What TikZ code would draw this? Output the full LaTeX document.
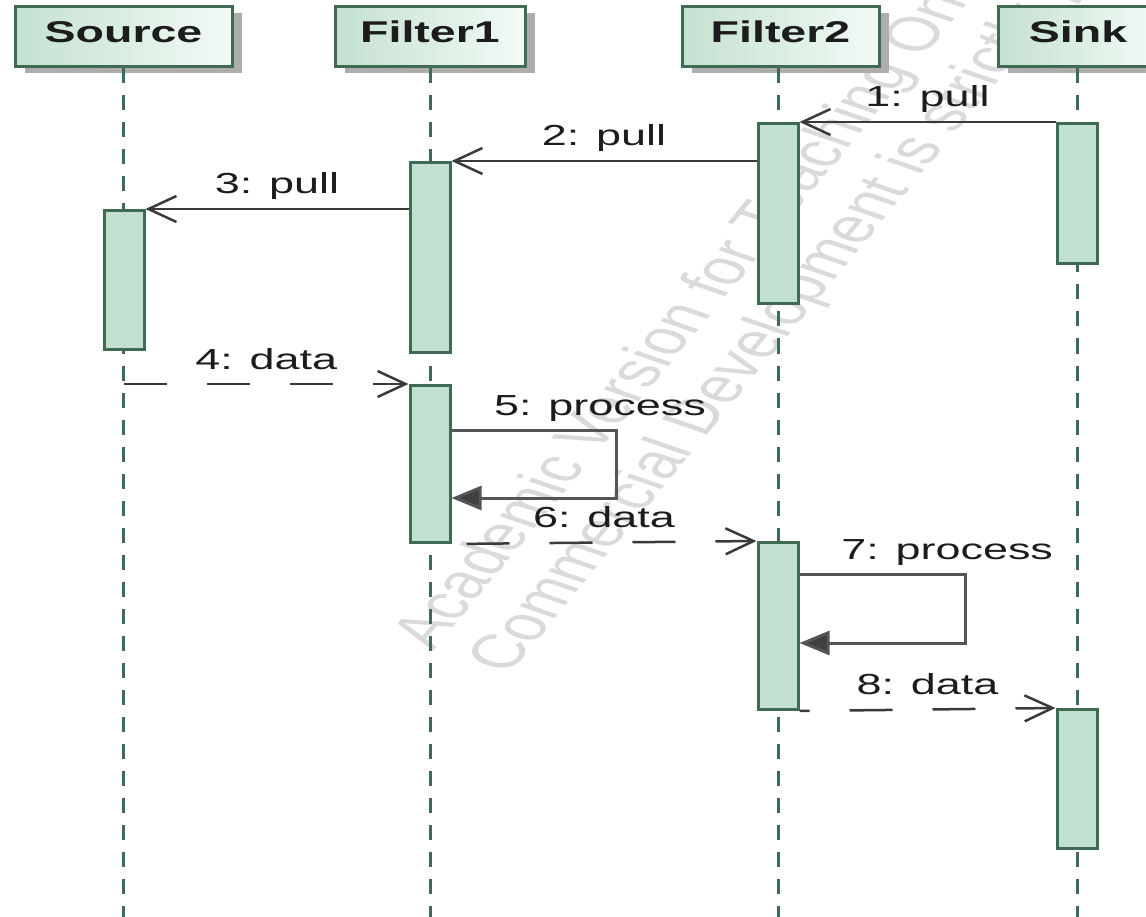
\documentclass[tikz,border=0pt]{standalone}
\usepackage{fontspec}
\usepackage{graphicx}
\setmainfont{Liberation Sans}
\usetikzlibrary{arrows.meta,shadows,calc}

\definecolor{lifegreen}{HTML}{3F6B54}
\definecolor{barfill}{HTML}{C2E0D0}
\definecolor{headleft}{HTML}{C4E1D1}
\definecolor{headright}{HTML}{F3FAF6}
\definecolor{msgline}{HTML}{3A3A3A}
\definecolor{selfline}{HTML}{555555}
\definecolor{inktext}{HTML}{1C1C1C}
\definecolor{wmark}{HTML}{DADADA}

% horizontally widened text, as the UML tool exports it
\newcommand{\wide}[1]{\scalebox{1.55}[1]{#1}}

\tikzset{
  header/.style={draw=lifegreen, line width=3pt, left color=headleft, right color=headright,
    minimum height=60pt, inner sep=0pt, text height=22pt, text depth=10pt,
    font=\fontsize{30}{34}\selectfont\bfseries, text=inktext,
    drop shadow={shadow xshift=10pt, shadow yshift=-6pt, fill=black!32, opacity=1}},
  lifeline/.style={draw=lifegreen, line width=3pt, dash pattern=on 15pt off 12pt},
  bar/.style={draw=lifegreen, fill=barfill, line width=3pt, minimum width=40pt, inner sep=0pt, anchor=north},
  call/.style={draw=msgline, line width=2.5pt, -{Straight Barb[length=28pt,width=26pt]}},
  reply/.style={draw=msgline, line width=2.5pt, dash pattern=on 43pt off 40pt, -{Straight Barb[length=28pt,width=26pt]}},
  selfcall/.style={draw=selfline, line width=3pt, -{Triangle[length=30pt,width=24pt,fill=black!75]}},
  msglabel/.style={anchor=base, inner sep=0pt, yshift=15pt, font=\fontsize{29}{33}\selectfont, text=inktext},
  watermark/.style={anchor=base west, inner sep=0pt, text=wmark, font=\fontsize{48}{54}\selectfont,
    xscale=1.55, rotate=62}
}

\begin{document}
\begin{tikzpicture}[x=1pt, y=-1pt]
\useasboundingbox (0,0) rectangle (1146,917);
\clip (0,0) rectangle (1146,917);

% watermark
\node[watermark] (wm1) at (433,652) {Academic Version for Teaching Only};
\node[watermark] (wm2) at (508,676) {Commercial Development is strictly prohibited};

% participants
\node[header, minimum width=217pt] (src) at (123.5,37) {\wide{Source}};
\node[header, minimum width=190pt] (fa)  at (430,37)   {\wide{Filter1}};
\node[header, minimum width=197pt] (fb)  at (780.5,37) {\wide{Filter2}};
\node[header, minimum width=160pt] (snk) at (1078,37)  {\wide{Sink}};

% lifeline ends below the page edge
\coordinate (srcEnd) at (124,925);
\coordinate (faEnd)  at (430,925);
\coordinate (fbEnd)  at (778,925);
\coordinate (snkEnd) at (1077,925);

\draw[lifeline] (src.south) -- (src.south |- srcEnd);
\draw[lifeline] (fa.south)  -- (fa.south |- faEnd);
\draw[lifeline] (fb.south -| fbEnd) -- (fbEnd);
\draw[lifeline] (snk.south -| snkEnd) -- (snkEnd);

% activation bars
\node[bar, minimum height=180pt] (fbA)  at (778,122)  {};
\node[bar, minimum height=140pt] (snkA) at (1077,122) {};
\node[bar, minimum height=190pt] (faA)  at (430,161)  {};
\node[bar, minimum height=139pt] (srcA) at (124,209)  {};
\node[bar, minimum height=157pt] (faB)  at (430,384)  {};
\node[bar, minimum height=167pt] (fbB)  at (778,541)  {};
\node[bar, minimum height=139pt] (snkB) at (1077,708) {};

% pull requests
\draw[call] (snkA.north west) -- (fbA.north east)
  node[msglabel, pos=0.5] (m1) {\wide{1: pull}};
\draw[call] (fbA.west |- faA.north) -- (faA.north east)
  node[msglabel, pos=0.5] (m2) {\wide{2: pull}};
\draw[call] (faA.west |- srcA.north) -- (srcA.north east)
  node[msglabel, pos=0.5] (m3) {\wide{3: pull}};

% data handed back
\draw[reply] (srcA.center |- faB.north) -- (faB.north west)
  node[msglabel, pos=0.5] (m4) {\wide{4: data}};
\draw[reply, dash phase=68pt] (faB.south east) -- (fbB.north west)
  node[msglabel, pos=0.5] (m6) {\wide{6: data}};
\draw[reply, dash phase=33pt] (fbB.south east) -- (snkB.north west)
  node[msglabel, pos=0.5] (m8) {\wide{8: data}};

% self calls
\draw[selfcall] ($(faB.north east)+(0,46)$) -- ++(165,0)
  node[msglabel, pos=0.9] (m5) {\wide{5: process}}
  -- ++(0,68) -- ++(-165,0);
\draw[selfcall] ($(fbB.north east)+(0,33)$) -- ++(166,0)
  node[msglabel, pos=0.89] (m7) {\wide{7: process}}
  -- ++(0,69) -- ++(-166,0);
\end{tikzpicture}
\end{document}
